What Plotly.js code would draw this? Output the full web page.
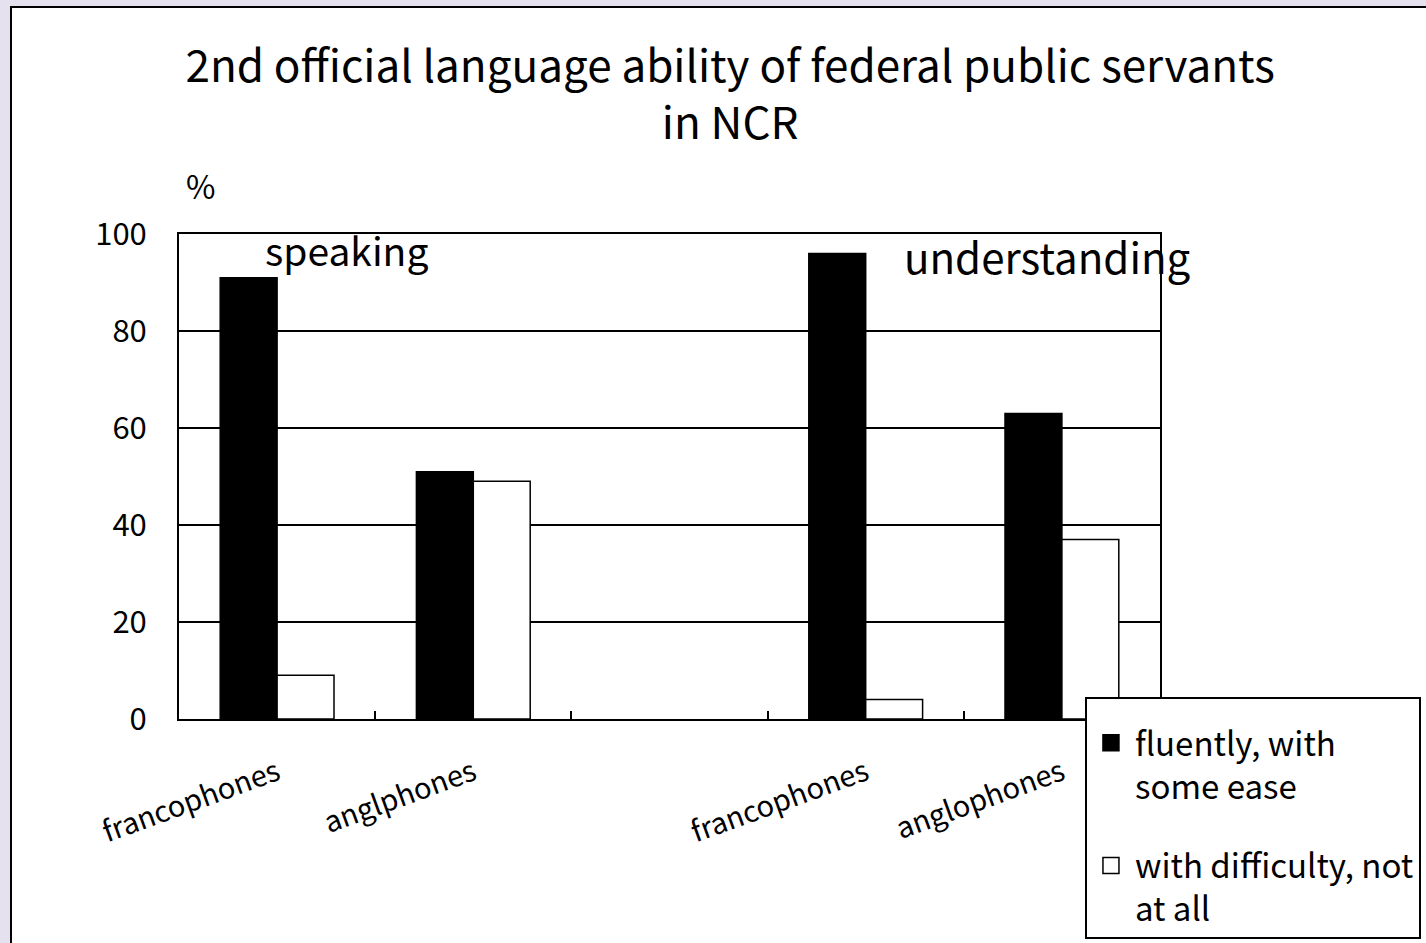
<!DOCTYPE html>
<html>
<head>
<meta charset="utf-8">
<script src="https://cdn.plot.ly/plotly-3.0.1.min.js"></script>
<style>
  html, body { margin: 0; padding: 0; background: #E6E1EE; width: 1426px; height: 943px; overflow: hidden; }
  #frame { position: absolute; left: 10px; top: 6px; width: 1500px; height: 1000px; background: #ffffff; border: 2px solid #000; }
  #chart { position: absolute; left: 0; top: 0; width: 1426px; height: 943px; }
</style>
</head>
<body>
<div id="frame"></div>
<div id="chart"></div>
<script>
// ---- data ----
const categories = ["francophones", "anglphones", "", "francophones", "anglophones"];
const categoryKeys = ["c0", "c1", "c2", "c3", "c4"];
const fluentValues = [91, 51, null, 96, 63];
const difficultyValues = [9, 49, null, 4, 37];
const seriesNames = ["fluently, with<br>some ease", "with difficulty, not<br>at all"];
const seriesFill = ["#000000", "#ffffff"];
const yTicks = [0, 20, 40, 60, 80, 100];
const sectionLabels = ["speaking", "understanding"];

const FONT = '"Noto Sans CJK JP", "Noto Sans", sans-serif';

const traces = [
  {
    type: 'bar', name: seriesNames[0], x: categoryKeys, y: fluentValues, showlegend: false,
    marker: { color: seriesFill[0], line: { color: '#000000', width: 1.5 } },
    hoverinfo: 'y'
  },
  {
    type: 'bar', name: seriesNames[1], x: categoryKeys, y: difficultyValues, showlegend: false,
    marker: { color: seriesFill[1], line: { color: '#000000', width: 1.5 } },
    hoverinfo: 'y'
  },
  // legend entries (square swatches like the reference)
  {
    type: 'scatter', mode: 'markers', name: seriesNames[0], x: [null], y: [null], legendgroup: 'a',
    marker: { symbol: 'square', size: 16, color: seriesFill[0], line: { color: '#000', width: 1.5 } }
  },
  {
    type: 'scatter', mode: 'markers', name: seriesNames[1], x: [null], y: [null], legendgroup: 'b',
    marker: { symbol: 'square', size: 16, color: seriesFill[1], line: { color: '#000', width: 1.5 } }
  }
];

const layout = {
  width: 1426, height: 943,
  paper_bgcolor: 'rgba(0,0,0,0)',
  plot_bgcolor: '#ffffff',
  margin: { l: 179, r: 266, t: 234, b: 224, autoexpand: false },
  font: { family: FONT, color: '#000', size: 26 },
  barmode: 'group', bargap: 0.42, bargroupgap: 0,
  title: {
    text: '2nd official language ability of federal public servants<br>in NCR',
    font: { family: FONT, size: 44, color: '#000' },
    x: 0.512, xref: 'container', xanchor: 'center',
    y: 0.913, yref: 'container', yanchor: 'top', automargin: false
  },
  xaxis: {
    type: 'category', categoryorder: 'array', categoryarray: categoryKeys,
    tickmode: 'array', tickvals: categoryKeys, ticktext: categories,
    tickson: 'boundaries', ticks: 'inside', ticklen: 8, tickwidth: 2, tickcolor: '#000',
    tickangle: -20, ticklabelstandoff: 24,
    tickfont: { family: FONT, size: 29, color: '#000' },
    showline: true, linecolor: '#000', linewidth: 2, mirror: true, automargin: false,
    showgrid: false, zeroline: false, fixedrange: true, range: [-0.5, 4.5]
  },
  yaxis: {
    range: [0, 100], tickmode: 'array', tickvals: yTicks,
    ticks: '', ticklabelstandoff: 24, automargin: false,
    tickfont: { family: FONT, size: 31, color: '#000' },
    showline: true, linecolor: '#000', linewidth: 2, mirror: true,
    showgrid: true, gridcolor: '#000', gridwidth: 1.5, zeroline: false, fixedrange: true
  },
  legend: {
    x: 0.9235, xanchor: 'left', y: 0.045, yanchor: 'top',
    bgcolor: '#ffffff', bordercolor: '#000', borderwidth: 2,
    font: { family: FONT, size: 33, color: '#000' },
    title: { text: ' ', font: { family: FONT, size: 12 } },
    tracegroupgap: 34, itemsizing: 'trace', itemwidth: 38, valign: 'top',
    traceorder: 'grouped'
  },
  annotations: [
    { xref: 'paper', yref: 'paper', x: 0.0224, y: 1.101, xanchor: 'center', yanchor: 'middle',
      text: '%', showarrow: false, font: { family: FONT, size: 32, color: '#000' } },
    { xref: 'paper', yref: 'paper', x: 0.0856, y: 0.969, xanchor: 'left', yanchor: 'middle',
      text: sectionLabels[0], showarrow: false, font: { family: FONT, size: 39, color: '#000' } },
    { xref: 'paper', yref: 'paper', x: 0.737, y: 0.955, xanchor: 'left', yanchor: 'middle',
      text: sectionLabels[1], showarrow: false, font: { family: FONT, size: 42, color: '#000' } }
  ],
  showlegend: true
};

Plotly.newPlot('chart', traces, layout, { displayModeBar: false, staticPlot: true });
</script>
</body>
</html>
